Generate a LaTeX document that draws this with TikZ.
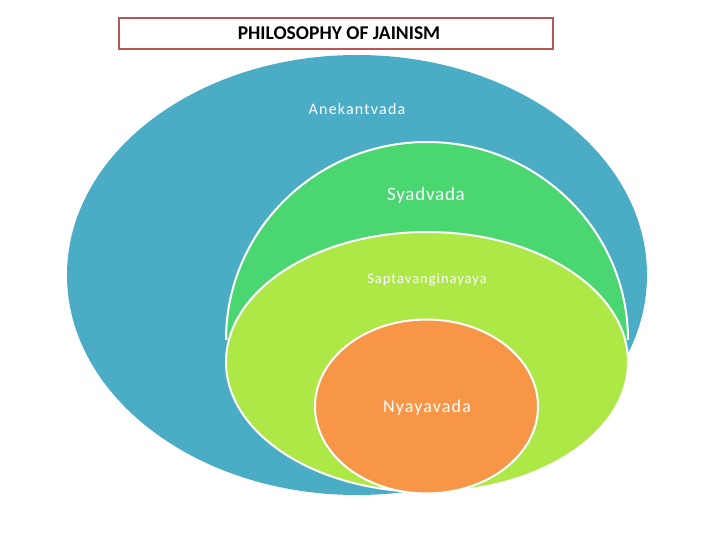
\documentclass[tikz,border=0pt]{standalone}
\usepackage{fontspec}
\setmainfont{Carlito}
\usepackage{xcolor}
\usepackage{tikz}
\usetikzlibrary{positioning}

\definecolor{anekblue}{RGB}{75,172,198}
\definecolor{syadgreen}{RGB}{74,215,113}
\definecolor{saptlime}{RGB}{173,232,70}
\definecolor{nyayorange}{RGB}{247,150,70}
\definecolor{titlered}{RGB}{185,85,82}

\begin{document}
\begin{tikzpicture}[x=1pt,y=-1pt,
  ring/.style={draw=white,line width=2pt},
  lbl/.style={text=white,inner sep=0pt},
  titlebox/.style={rectangle,draw=titlered,line width=1.6pt,fill=white,minimum width=434pt,minimum height=31pt,font=\bfseries\fontsize{19.5}{21}\selectfont}]
\useasboundingbox (0,0) rectangle (720,540);
% outer ring
\fill[anekblue] (357,275) ellipse [x radius=290pt,y radius=220pt];
% second ring, upper half only
\fill[syadgreen] (226,340) arc [start angle=180,end angle=0,x radius=201pt,y radius=198pt] -- cycle;
\draw[ring] (226,340) arc [start angle=180,end angle=0,x radius=201pt,y radius=198pt];
\filldraw[ring,fill=saptlime] (427,362) ellipse [x radius=201pt,y radius=130pt];
\filldraw[ring,fill=nyayorange] (426.5,406.5) ellipse [x radius=111.5pt,y radius=87pt];
\node[titlebox] (title) at (336,33.5) {\hspace*{6pt}PHILOSOPHY OF JAINISM};
\node[lbl,font=\fontsize{16}{18}\selectfont\addfontfeature{LetterSpace=7.5}] (anek) at (357,109) {Anekantvada};
\node[lbl,font=\fontsize{19}{21}\selectfont\addfontfeature{LetterSpace=4}] (syad) at (426,195) {Syadvada};
\node[lbl,font=\fontsize{14.5}{16}\selectfont\addfontfeature{LetterSpace=7}] (sapt) at (427,280) {Saptavanginayaya};
\node[lbl,font=\fontsize{18}{20}\selectfont\addfontfeature{LetterSpace=6.5}] (nyay) at (427,408) {Nyayavada};
\end{tikzpicture}
\end{document}
